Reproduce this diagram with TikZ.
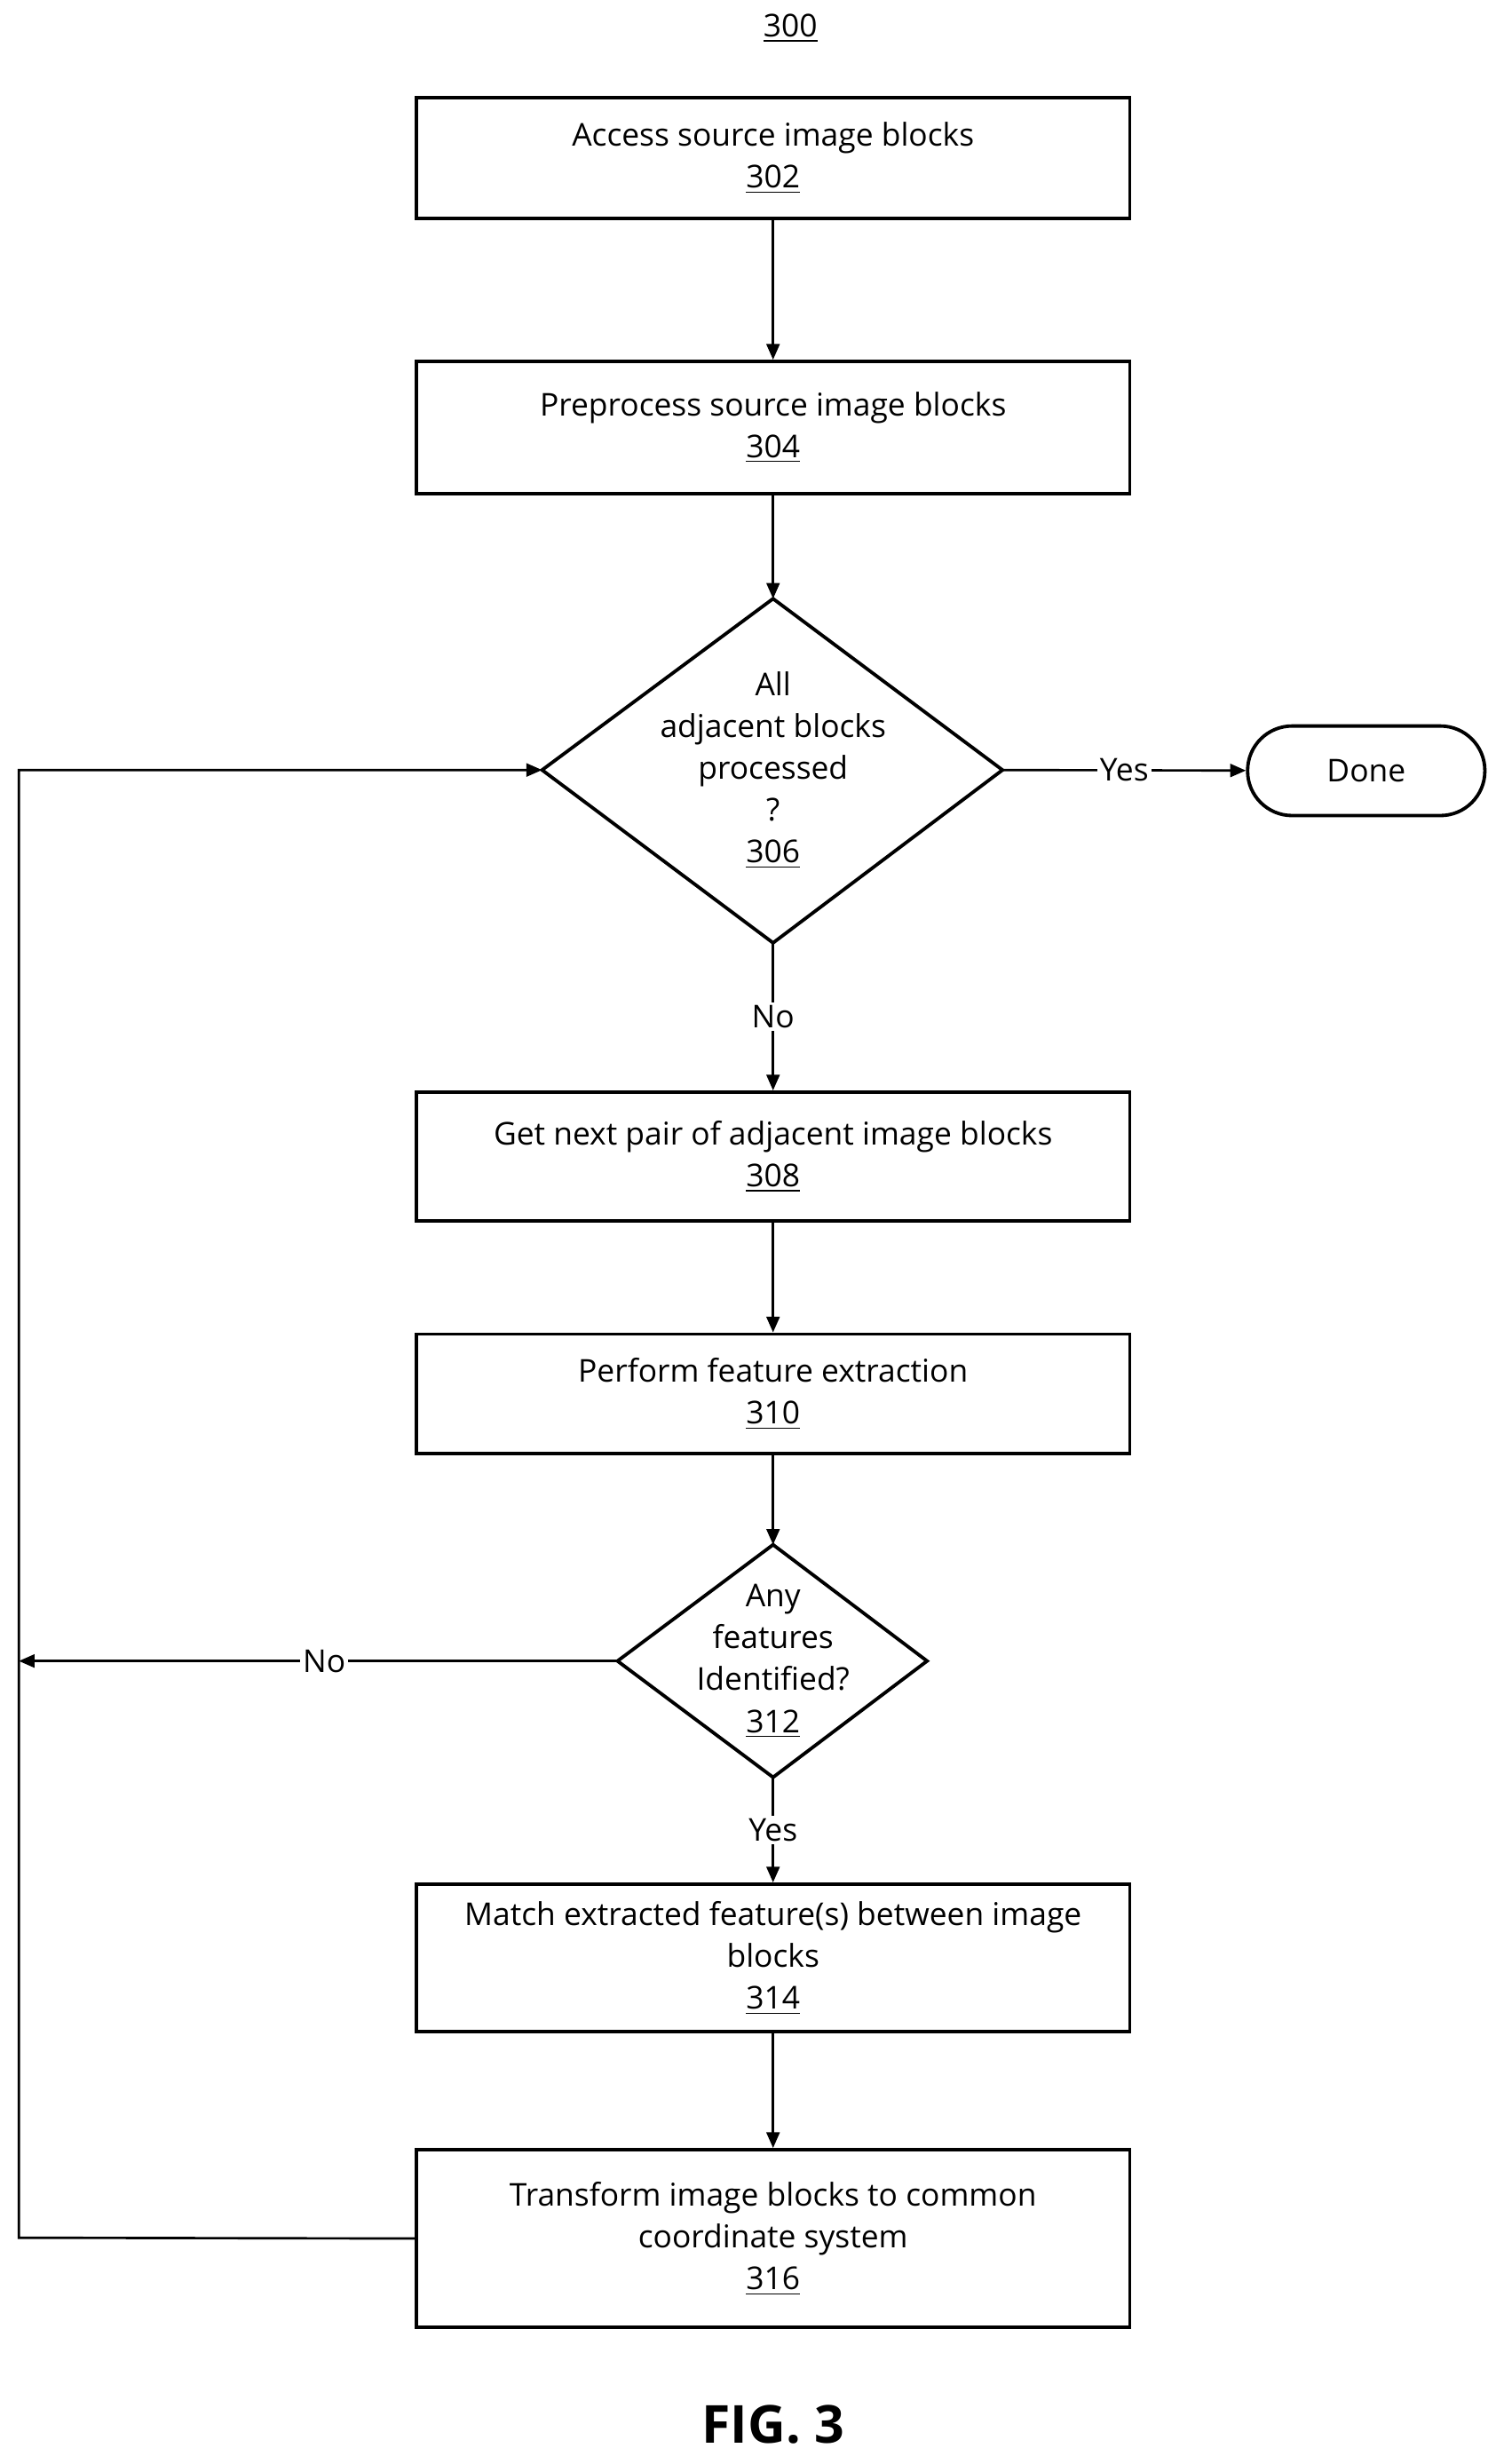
\documentclass[tikz,border=0pt]{standalone}
\usepackage{fontspec}
\setmainfont{Open Sans}
\usetikzlibrary{arrows.meta}
\begin{document}
\begin{tikzpicture}[x=0.6pt,y=-0.6pt,
  box/.style={draw,line width=1.3pt,minimum width=272.4pt,inner sep=0pt,align=center,font=\fontsize{12}{16}\selectfont},
  lab/.style={font=\fontsize{12}{16}\selectfont,align=center},
  arr/.style={line width=0.9pt,-{Triangle[length=6pt,width=5pt]}},
  ln/.style={line width=0.9pt}]
\useasboundingbox (0,0) rectangle (957,1568);
\node[lab] (t300) at (503,18) {\underline{300}};
\node[box,minimum height=46.2pt] (b302) at (492,100.5) {Access source image blocks\\\underline{302}};
\node[box,minimum height=50.4pt] (b304) at (492,272) {Preprocess source image blocks\\\underline{304}};
\draw[line width=1.3pt] (345,490) coordinate (d306w) -- (492,381) coordinate (d306n) -- (638,490) coordinate (d306e) -- (492,600) coordinate (d306s) -- cycle;
\node[lab] (l306) at (492,490) {All\\adjacent blocks\\processed\\?\\\underline{306}};
\node[draw,line width=1.3pt,rounded corners=17pt,minimum width=90.6pt,minimum height=34.2pt,lab] (done) at (869.5,490.5) {Done};
\node[box,minimum height=49.2pt] (b308) at (492,736) {Get next pair of adjacent image blocks\\\underline{308}};
\node[box,minimum height=45.6pt] (b310) at (492,887) {Perform feature extraction\\\underline{310}};
\draw[line width=1.3pt] (393,1057) coordinate (d312w) -- (492,983) coordinate (d312n) -- (590,1057) coordinate (d312e) -- (492,1131) coordinate (d312s) -- cycle;
\node[lab] (l312) at (492,1057) {Any\\features\\Identified?\\\underline{312}};
\node[box,minimum height=56.4pt] (b314) at (492,1246) {Match extracted feature(s) between image\\blocks\\\underline{314}};
\node[box,minimum height=67.8pt] (b316) at (492,1424.5) {Transform image blocks to common\\coordinate system\\\underline{316}};
\node[font=\bfseries\fontsize{20}{24}\selectfont] (fig) at (492,1543) {FIG. 3};
\coordinate (c1) at (12,1424);
\coordinate (c2) at (12,490);
\coordinate (c3) at (12,1057);
\draw[arr] (b302) -- (b304);
\draw[arr] (b304) -- (d306n);
\draw[arr] (d306e) -- node[fill=white,inner sep=1pt,lab]{Yes} (done);
\draw[arr] (d306s) -- node[fill=white,inner sep=1pt,lab,pos=0.5]{No} (b308);
\draw[arr] (b308) -- (b310);
\draw[arr] (b310) -- (d312n);
\draw[arr] (d312w) -- node[fill=white,inner sep=1pt,lab,pos=0.49]{No} (c3);
\draw[arr] (d312s) -- node[fill=white,inner sep=1pt,lab]{Yes} (b314);
\draw[arr] (b314) -- (b316);
\draw[arr] (b316.west) -- (c1) -- (c2) -- (d306w);
\end{tikzpicture}
\end{document}
